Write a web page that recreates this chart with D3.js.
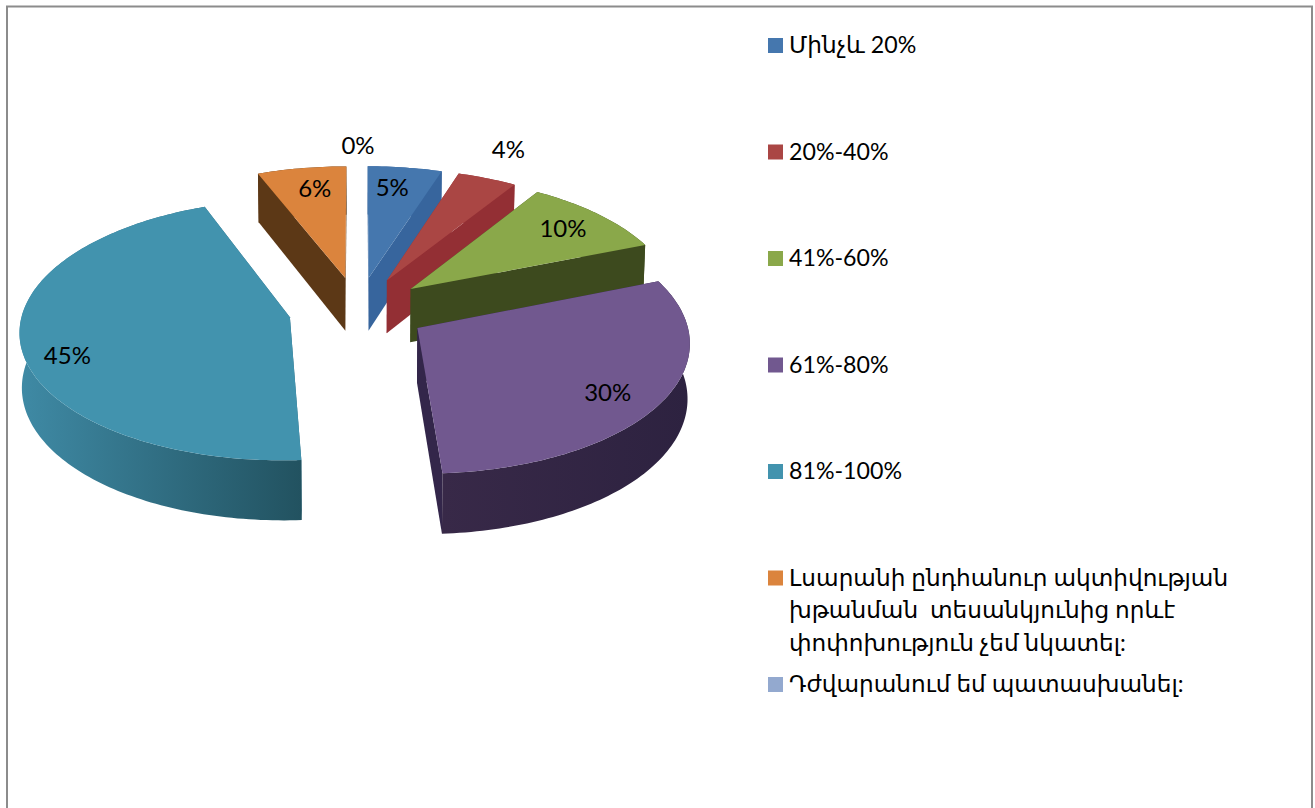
<!DOCTYPE html>
<html><head><meta charset="utf-8">
<script src="https://cdn.jsdelivr.net/npm/d3@7"></script>
<style>
html,body{margin:0;padding:0;background:#fff;overflow:hidden}
text{font-family:Lato,"DejaVu Sans",sans-serif;fill:#000}
</style></head><body>
<svg id="c" width="1315" height="808"></svg>
<script>
const categories = [
  ["Մինչև 20%"],
  ["20%-40%"],
  ["41%-60%"],
  ["61%-80%"],
  ["81%-100%"],
  ["Լսարանի ընդհանուր ակտիվության","խթանման  տեսանկյունից որևէ","փոփոխություն չեմ նկատել:"],
  ["Դժվարանում եմ պատասխանել:"]
];
const values = [5, 4, 10, 30, 45, 6, 0];
const topColors  = ["#4577ae","#aa4644","#8aa84a","#71588f","#4293ae","#db843d","#93a9cf"];
const sideColors = ["#37659d","#932f34","#3d4a1e","#33264a","#2f6b80","#5c3816","#6f83a8"];
const rimFrom    = ["#37659d","#932f34","#3d4a1e","#382948","#3f8aa5","#5c3816","#6f83a8"];
const rimTo      = ["#37659d","#932f34","#3d4a1e","#2d2240","#225260","#5c3816","#6f83a8"];
const labelRadius = [.8, 1.3, .8, .81, .85, .8, 1.2];
const labelShift  = [-1.8, -1.2, 0, 2.8, -7.4, 1.5, 0];

const svg = d3.select("#c");
svg.append("rect").attr("x",7).attr("y",6.5).attr("width",1305).attr("height",830)
  .attr("fill","#fff").attr("stroke","#8c8c8c").attr("stroke-width",2);

// perspective ground plane: the lower face (Z=1) sits slightly further from the eye
const cx = 358, cy = 310, k = .095, explode = .26, thick = 54;
const sx = d3.scaleLinear().domain([0,1]).range([0,267]);
const sy = d3.scaleLinear().domain([0,1]).range([0,128]);
function project(X, Y, Z){
  const s = 1/(1+k*Y);
  return [cx + sx(X)*s*(1-.007*Z), cy - sy(Y)*s + Z*thick*s];
}
const arcs = d3.pie().sort(null).value(d=>d).startAngle(0).endAngle(2*Math.PI)(values);
const line = d3.line();
const defs = svg.append("defs");
const marks = svg.append("g").attr("class","pie");

function facesFor(a){
  const mid = (a.startAngle+a.endAngle)/2;
  const ox = explode*Math.sin(mid), oy = explode*Math.cos(mid);
  const pt = (t,r,z)=>project(ox+r*Math.sin(t), oy+r*Math.cos(t), z);
  const n = Math.max(2, Math.ceil((a.endAngle-a.startAngle)/.02));
  const ts = d3.range(n+1).map(j=>a.startAngle+(a.endAngle-a.startAngle)*j/n);
  return {mid, pt, ts, ox, oy};
}

arcs.forEach((a,i)=>{
  if(a.value===0) return;
  const {pt,ts} = facesFor(a);
  const g = marks.append("g");
  const quad = t=>[pt(t,0,0),pt(t,1,0),pt(t,1,1),pt(t,0,1)];
  g.append("path").attr("d",line(quad(a.startAngle))+"Z").attr("fill",sideColors[i]);
  g.append("path").attr("d",line(quad(a.endAngle))+"Z").attr("fill",sideColors[i]);
  const rim = ts.map(t=>pt(t,1,0)).concat(ts.slice().reverse().map(t=>pt(t,1,1)));
  const ext = d3.extent(rim,d=>d[0]);
  const id = "rim"+i;
  const grad = defs.append("linearGradient").attr("id",id).attr("gradientUnits","userSpaceOnUse")
    .attr("x1",ext[0]).attr("x2",ext[1]).attr("y1",0).attr("y2",0);
  grad.append("stop").attr("offset",0).attr("stop-color",rimFrom[i]);
  grad.append("stop").attr("offset",1).attr("stop-color",rimTo[i]);
  g.append("path").attr("d",line(rim)+"Z").attr("fill",`url(#${id})`);
  const top = [pt(a.startAngle,0,0)].concat(ts.map(t=>pt(t,1,0)));
  g.append("path").attr("d",line(top)+"Z").attr("fill",topColors[i]);
});

// data labels
arcs.forEach((a,i)=>{
  const {mid,ox,oy} = facesFor(a);
  const ang = mid + labelShift[i]*Math.PI/180;
  const p = project(ox+labelRadius[i]*Math.sin(ang), oy+labelRadius[i]*Math.cos(ang), 0);
  svg.append("text").attr("x",p[0]).attr("y",p[1]).attr("text-anchor","middle")
    .attr("dy","0.35em").attr("font-size",24).text(a.value+"%");
});

// legend
const ly = d3.scalePoint().domain(d3.range(categories.length)).range([45,684]);
const legend = svg.append("g").attr("class","legend");
categories.forEach((lines,i)=>{
  const y = ly(i);
  legend.append("rect").attr("x",768).attr("y",y-7).attr("width",15).attr("height",15).attr("fill",topColors[i]);
  const t = legend.append("text").attr("font-size",23.2);
  lines.forEach((s,j)=>{
    t.append("tspan").attr("x",789).attr("y",y+8+j*32.5).style("white-space","pre").text(s);
  });
});
</script>
</body></html>
